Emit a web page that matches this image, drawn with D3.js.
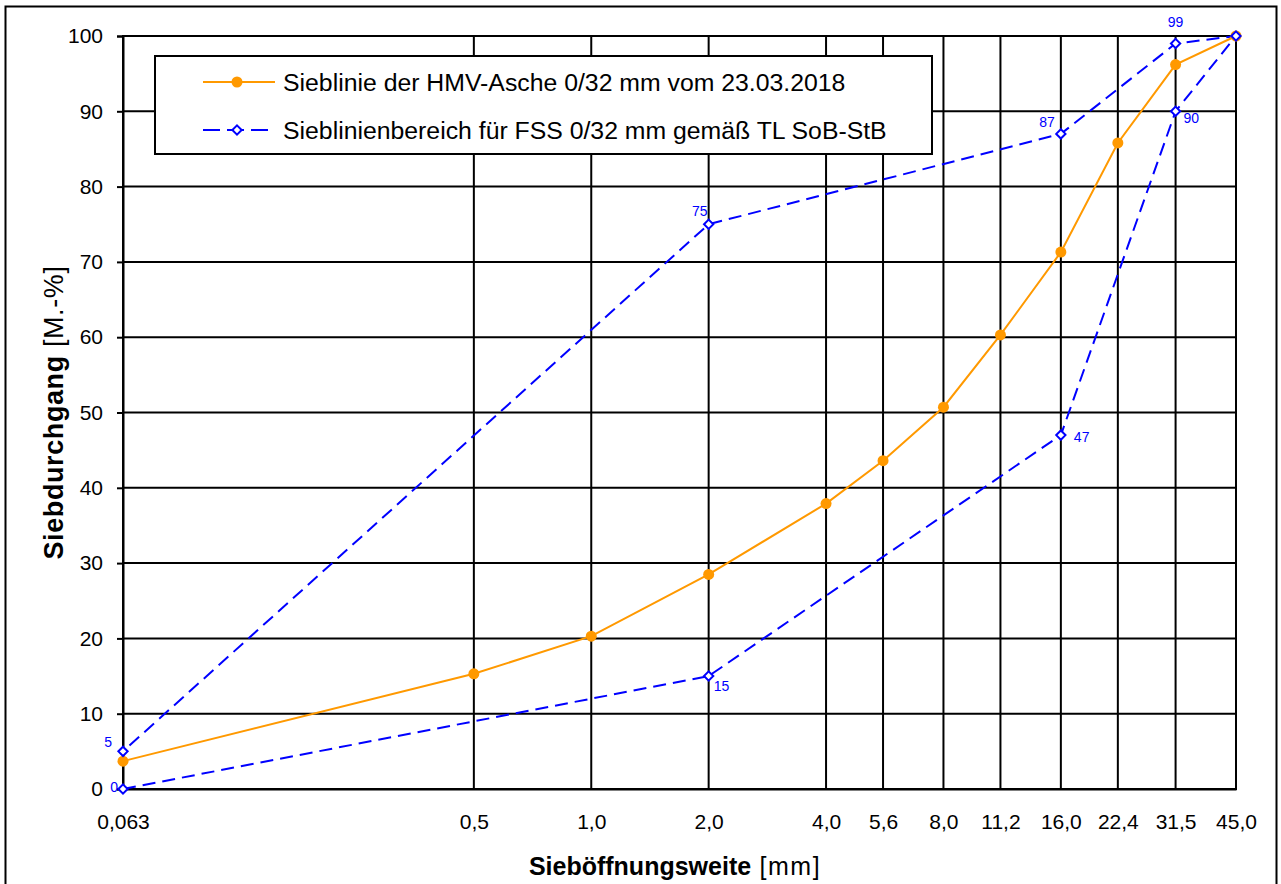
<!DOCTYPE html>
<html lang="de">
<head>
  <meta charset="UTF-8">
  <title>Sieblinie HMV-Asche</title>
  <style>
    body { margin: 0; background: #fff; }
    svg text { font-family: "Liberation Sans", Arial, sans-serif; }
  </style>
</head>
<body>
<svg id="chart" width="1281" height="884"></svg>

<script src="https://d3js.org/d3.v7.min.js"></script>
<script>
  // Siebweiten (mm) und Achsenbeschriftung
  const sieves = [0.063, 0.5, 1.0, 2.0, 4.0, 5.6, 8.0, 11.2, 16.0, 22.4, 31.5, 45.0];
  const sieveLabels = ['0,063', '0,5', '1,0', '2,0', '4,0', '5,6', '8,0', '11,2', '16,0', '22,4', '31,5', '45,0'];
  const yTicks = [0, 10, 20, 30, 40, 50, 60, 70, 80, 90, 100];

  // Sieblinie der HMV-Asche
  const ashPassing = [3.7, 15.3, 20.3, 28.5, 37.9, 43.6, 50.7, 60.3, 71.3, 85.8, 96.2, 100];

  // Sieblinienbereich FSS 0/32 (untere Grenze hin, obere zurueck)
  const bandSizes = [0.063, 2.0, 16.0, 31.5, 45.0, 31.5, 16.0, 2.0, 0.063];
  const bandValues = [0, 15, 47, 90, 100, 99, 87, 75, 5];
  // Lage der Werte-Labels: [dx, dy, anchor]
  const bandLabelPos = [[-5, -2, 'end'], [5, 10, 'start'], [13, 2, 'start'], [8, 7, 'start'], null,
                        [0, -21, 'middle'], [-6, -12, 'end'], [-1, -13, 'end'], [-11, -9, 'end']];

  const svg = d3.select('#chart');
  const margin = { top: 36, left: 123 };
  const innerW = 1236 - margin.left;
  const innerH = 789 - margin.top;
  const font = '"Liberation Sans", Arial, sans-serif';

  // outer frame
  svg.append('rect')
    .attr('x', 5.5).attr('y', 6.5)
    .attr('width', 1271).attr('height', 890)
    .attr('fill', 'none').attr('stroke', '#000').attr('stroke-width', 2);

  const g = svg.append('g').attr('transform', `translate(${margin.left},${margin.top})`);

  const x = d3.scaleLog().domain([0.063, 45]).range([0, innerW]);
  const y = d3.scaleLinear().domain([0, 100]).range([innerH, 0]);

  // grid
  g.append('g').selectAll('line').data(yTicks).join('line')
    .attr('x1', 0).attr('x2', innerW)
    .attr('y1', d => y(d)).attr('y2', d => y(d))
    .attr('stroke', '#000').attr('stroke-width', 2);
  g.append('g').selectAll('line').data(sieves).join('line')
    .attr('x1', d => x(d)).attr('x2', d => x(d))
    .attr('y1', 0).attr('y2', innerH)
    .attr('stroke', '#000').attr('stroke-width', 2);

  // Y axis
  const yAxis = g.append('g')
    .call(d3.axisLeft(y).tickValues(yTicks).tickSize(6).tickPadding(14));
  yAxis.select('.domain').attr('stroke-width', 2);
  yAxis.selectAll('.tick line').attr('stroke-width', 2);
  yAxis.selectAll('text').style('font-size', '21px').style('font-family', font).attr('fill', '#000');

  // X axis
  const xAxis = g.append('g')
    .attr('transform', `translate(0,${innerH})`)
    .call(d3.axisBottom(x).tickValues(sieves).tickFormat((d, i) => sieveLabels[i]).tickSize(0).tickPadding(25));
  xAxis.select('.domain').attr('stroke-width', 2);
  xAxis.selectAll('text').style('font-size', '21px').style('font-family', font).attr('fill', '#000');

  // plot border
  g.append('rect').attr('width', innerW).attr('height', innerH)
    .attr('fill', 'none').attr('stroke', '#000').attr('stroke-width', 2);

  // axis titles
  const xt = svg.append('text')
    .attr('x', 675).attr('y', 875)
    .attr('text-anchor', 'middle').style('font-size', '25px');
  xt.append('tspan').attr('font-weight', 'bold').text('Sieböffnungsweite');
  xt.append('tspan').attr('letter-spacing', '1.5px').text(' [mm]');

  const yt = svg.append('text')
    .attr('transform', `translate(63,${margin.top + innerH / 2}) rotate(-90)`)
    .attr('text-anchor', 'middle').style('font-size', '27px').attr('letter-spacing', '0.6px');
  yt.append('tspan').attr('font-weight', 'bold').text('Siebdurchgang');
  yt.append('tspan').text(' [M.-%]');

  const blue = '#0000ff';
  const orange = '#ff9900';

  // Sieblinienbereich
  const band = bandSizes.map((s, i) => ({ s, v: bandValues[i], pos: bandLabelPos[i] }));
  g.append('path').datum(band)
    .attr('fill', 'none').attr('stroke', blue).attr('stroke-width', 2)
    .attr('stroke-dasharray', '13,7')
    .attr('d', d3.line().x(d => x(d.s)).y(d => y(d.v)));

  // HMV-Asche
  const ash = sieves.map((s, i) => ({ s, v: ashPassing[i] }));
  g.append('path').datum(ash)
    .attr('fill', 'none').attr('stroke', orange).attr('stroke-width', 2)
    .attr('d', d3.line().x(d => x(d.s)).y(d => y(d.v)));
  g.append('g').selectAll('circle').data(ash).join('circle')
    .attr('cx', d => x(d.s)).attr('cy', d => y(d.v)).attr('r', 5.5)
    .attr('fill', orange);

  // band markers + labels
  const diamond = d3.symbol().type(d3.symbolDiamond2).size(55);
  g.append('g').selectAll('path').data(band).join('path')
    .attr('transform', d => `translate(${x(d.s)},${y(d.v)})`)
    .attr('d', diamond)
    .attr('fill', '#fff').attr('stroke', blue).attr('stroke-width', 2);
  g.append('g').selectAll('text').data(band.filter(d => d.pos)).join('text')
    .attr('x', d => x(d.s) + d.pos[0]).attr('y', d => y(d.v) + d.pos[1])
    .attr('dy', '0.35em')
    .attr('fill', blue).style('font-size', '14px')
    .attr('text-anchor', d => d.pos[2])
    .text(d => d.v);

  // legend
  const lg = svg.append('g').attr('transform', 'translate(155,56)');
  lg.append('rect').attr('width', 777).attr('height', 98)
    .attr('fill', '#fff').attr('stroke', '#000').attr('stroke-width', 2);
  const items = [
    { label: 'Sieblinie der HMV-Asche 0/32 mm vom 23.03.2018', color: orange, dash: null, y: 26 },
    { label: 'Sieblinienbereich für FSS 0/32 mm gemäß TL SoB-StB', color: blue, dash: '17,7', y: 74 }
  ];
  items.forEach((it, i) => {
    lg.append('line').attr('x1', 48).attr('x2', 120).attr('y1', it.y).attr('y2', it.y)
      .attr('stroke', it.color).attr('stroke-width', 2)
      .attr('stroke-dasharray', it.dash);
    if (i === 0) {
      lg.append('circle').attr('cx', 82).attr('cy', it.y).attr('r', 5.5).attr('fill', orange);
    } else {
      lg.append('path').attr('transform', `translate(82,${it.y})`).attr('d', diamond)
        .attr('fill', '#fff').attr('stroke', blue).attr('stroke-width', 2);
    }
    lg.append('text').attr('x', 128).attr('y', it.y).attr('dy', '0.35em')
      .style('font-size', '24.8px').text(it.label);
  });
</script>
</body>
</html>
